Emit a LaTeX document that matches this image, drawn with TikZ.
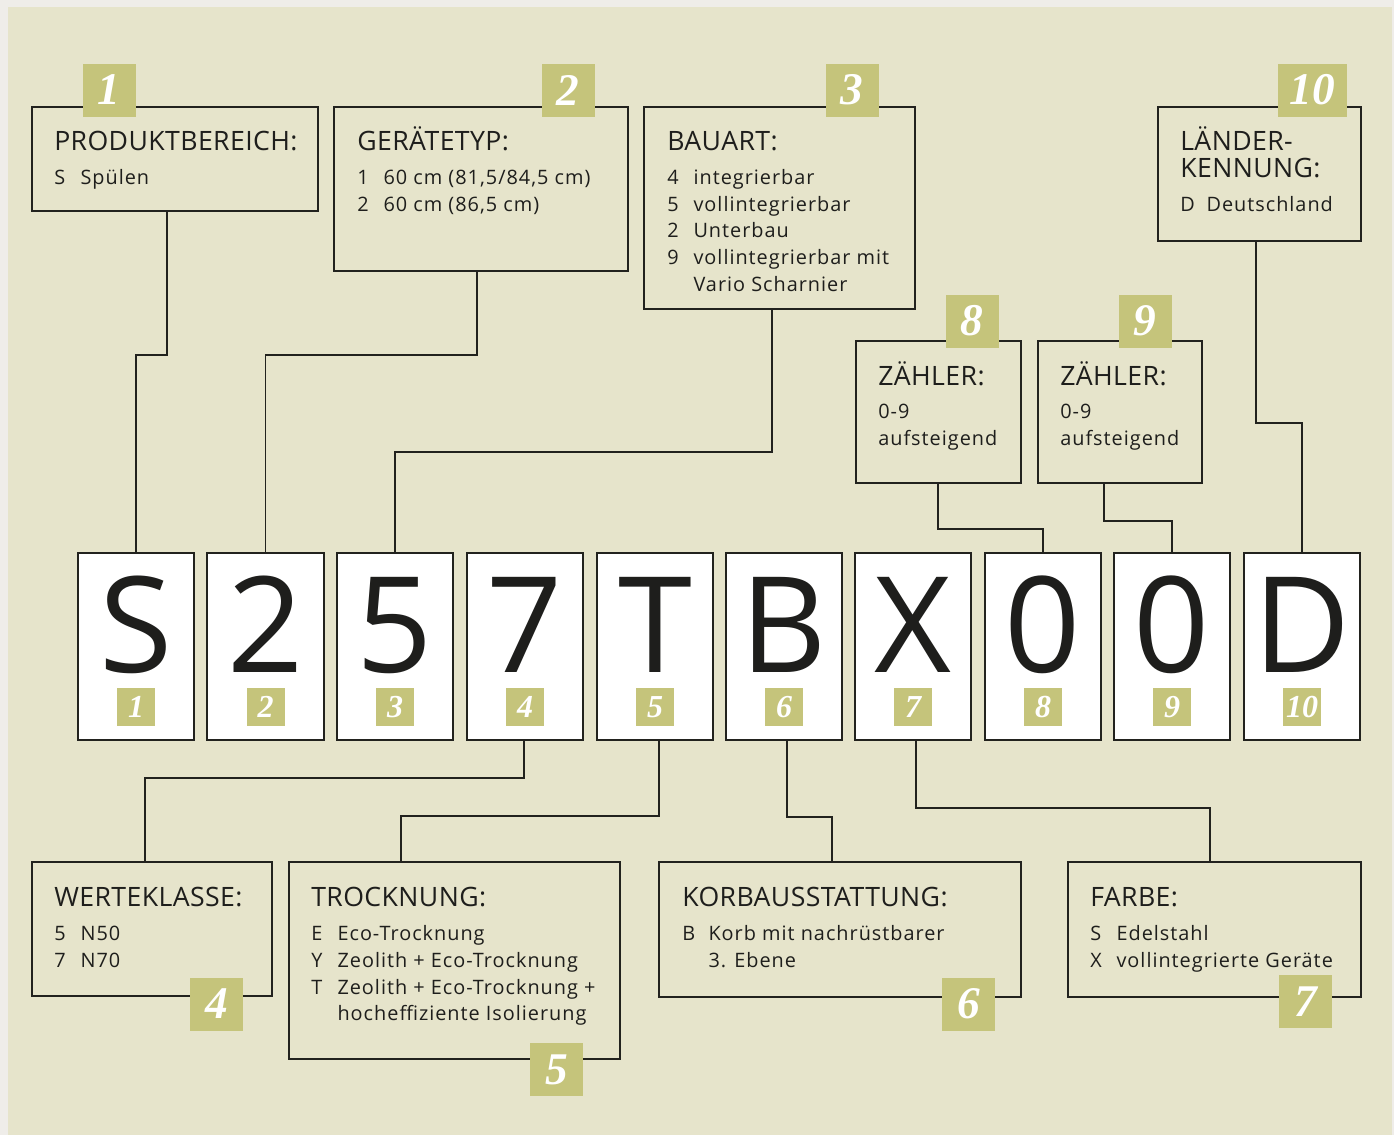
\documentclass[tikz,border=0pt]{standalone}
\usepackage{fontspec}
\setmainfont{Open Sans}
\newfontfamily\numfont{Liberation Serif}
\newfontfamily\bodyfont[LetterSpace=5]{Open Sans}
\newfontfamily\headfont[LetterSpace=1.5]{Open Sans}
\usetikzlibrary{fit}
\definecolor{bgbeige}{RGB}{230,228,203}
\definecolor{outerclr}{RGB}{239,237,233}
\definecolor{olivebadge}{RGB}{197,196,123}
\definecolor{lineclr}{RGB}{34,34,30}
\definecolor{textclr}{RGB}{30,30,28}
\newcommand\codeln[4]{\node[body] (#1) at (#2) {\makebox[19.7pt][l]{#3}#4};}
\begin{document}
\begin{tikzpicture}[x=0.75pt,y=-0.75pt,
 frame/.style={draw=lineclr, line width=1.5pt, inner sep=0pt, fill=bgbeige},
 lbox/.style={draw=lineclr, line width=1.5pt, inner sep=0pt, fill=white},
 badge/.style={fill=olivebadge, text=white, inner sep=0pt, minimum size=39.75pt,
   font=\numfont\bfseries\itshape\fontsize{34}{34}\selectfont},
 sbadge/.style={fill=olivebadge, text=white, inner sep=0pt, minimum size=28.5pt,
   font=\numfont\bfseries\itshape\fontsize{24}{24}\selectfont},
 head/.style={anchor=base west, inner sep=0pt, text=textclr, font=\headfont\fontsize{20}{24}\selectfont},
 body/.style={anchor=base west, inner sep=0pt, text=textclr, font=\bodyfont\fontsize{14.9}{18}\selectfont},
 big/.style={anchor=base, inner sep=0pt, text depth=0pt, text=textclr, font=\fontsize{100}{100}\selectfont},
 conn/.style={draw=lineclr, line width=1.1pt}]
\useasboundingbox (0,0) rectangle (1394,1135);
\fill[outerclr] (0,0) rectangle (1394,1135);
\fill[bgbeige] (8,7) rectangle (1392,1135);

% top boxes
\node[frame, fit={(32,107) (318,211)}] (b1) {};
\node[frame, fit={(334,107) (628,271)}] (b2) {};
\node[frame, fit={(644,107) (915,309)}] (b3) {};
\node[frame, fit={(1158,107) (1361,241)}] (b10) {};
\node[frame, fit={(856,341) (1021,483)}] (b8) {};
\node[frame, fit={(1038,341) (1202,483)}] (b9) {};
% bottom boxes
\node[frame, fit={(32,862) (272,996)}] (b4) {};
\node[frame, fit={(289,862) (620,1059)}] (b5) {};
\node[frame, fit={(659,862) (1021,997)}] (b6) {};
\node[frame, fit={(1068,862) (1361,997)}] (b7) {};

% letter boxes
\node[lbox, fit={(78,553) (194,740)}] (l1) {};
\node[lbox, fit={(207,553) (324,740)}] (l2) {};
\node[lbox, fit={(337,553) (453,740)}] (l3) {};
\node[lbox, fit={(467,553) (583,740)}] (l4) {};
\node[lbox, fit={(597,553) (713,740)}] (l5) {};
\node[lbox, fit={(726,553) (842,740)}] (l6) {};
\node[lbox, fit={(855,553) (971,740)}] (l7) {};
\node[lbox, fit={(985,553) (1101,740)}] (l8) {};
\node[lbox, fit={(1114,553) (1230,740)}] (l9) {};
\node[lbox, fit={(1244,553) (1360,740)}] (l10) {};

% connectors
\draw[conn] (b1.south -| 167,0) |- (l1.north |- 0,355) -- (l1.north);
\draw[conn] (b2.south -| 477,0) |- (l2.north |- 0,355) -- (l2.north);
\draw[conn] (b3.south -| 772,0) |- (l3.north |- 0,452) -- (l3.north);
\draw[conn] (b8.south -| 938,0) |- (l8.north |- 0,529) -- (l8.north);
\draw[conn] (b9.south -| 1104,0) |- (l9.north |- 0,521) -- (l9.north);
\draw[conn] (b10.south -| 1256,0) |- (l10.north |- 0,423) -- (l10.north);
\draw[conn] (l4.south -| 524,0) |- (145,778) -- (b4.north -| 145,0);
\draw[conn] (l5.south -| 659,0) |- (401,816) -- (b5.north -| 401,0);
\draw[conn] (l6.south -| 787,0) |- (832,817) -- (b6.north -| 832,0);
\draw[conn] (l7.south -| 916,0) |- (1210,808) -- (b7.north -| 1210,0);

% big letters
\foreach \n/\c in {1/S,2/2,3/5,4/7,5/T,6/B,7/X,8/0,9/0,10/D}{
  \node[big] (g\n) at (l\n.center |- 0,672) {\c};
  \node[sbadge] (s\n) at (l\n.center |- 0,707) {\n};
}

% badges of boxes
\node[badge] (n1) at (109,90) {1};
\node[badge] (n2) at (568,90) {2};
\node[badge] (n3) at (852,90) {3};
\node[badge, minimum width=51.75pt] (n10) at (1312.5,90) {10};
\node[badge] (n8) at (972,321) {8};
\node[badge] (n9) at (1145,321) {9};
\node[badge] (n4) at (216.5,1004) {4};
\node[badge] (n5) at (556.5,1069.5) {5};
\node[badge] (n6) at (968.5,1004) {6};
\node[badge] (n7) at (1305.5,1001.5) {7};

% texts
\node[head] (h1) at (54,150) {PRODUKTBEREICH:};
\codeln{t11}{54,184}{S}{Spülen}

\node[head] (h2) at (357,150) {GERÄTETYP:};
\codeln{t21}{357,184}{1}{60 cm (81,5/84,5 cm)}
\codeln{t22}{357,211}{2}{60 cm (86,5 cm)}

\node[head] (h3) at (667,150) {BAUART:};
\codeln{t31}{667,184}{4}{integrierbar}
\codeln{t32}{667,211}{5}{vollintegrierbar}
\codeln{t33}{667,237}{2}{Unterbau}
\codeln{t34}{667,264}{9}{vollintegrierbar mit}
\codeln{t35}{667,291}{}{Vario Scharnier}

\node[head] (h10a) at (1180,150) {LÄNDER-};
\node[head] (h10b) at (1180,177) {KENNUNG:};
\codeln{t101}{1180,211}{D}{Deutschland}

\node[head] (h8) at (878,385) {ZÄHLER:};
\node[body] (t81) at (878,418) {0-9};
\node[body] (t82) at (878,445) {aufsteigend};

\node[head] (h9) at (1060,385) {ZÄHLER:};
\node[body] (t91) at (1060,418) {0-9};
\node[body] (t92) at (1060,445) {aufsteigend};

\node[head] (h4) at (54,906) {WERTEKLASSE:};
\codeln{t41}{54,940}{5}{N50}
\codeln{t42}{54,967}{7}{N70}

\node[head] (h5) at (311,906) {TROCKNUNG:};
\codeln{t51}{311,940}{E}{Eco-Trocknung}
\codeln{t52}{311,967}{Y}{Zeolith + Eco-Trocknung}
\codeln{t53}{311,994}{T}{Zeolith + Eco-Trocknung +}
\codeln{t54}{311,1020}{}{hocheffiziente Isolierung}

\node[head] (h6) at (682,906) {KORBAUSSTATTUNG:};
\codeln{t61}{682,940}{B}{Korb mit nachrüstbarer}
\codeln{t62}{682,967}{}{3. Ebene}

\node[head] (h7) at (1090,906) {FARBE:};
\codeln{t71}{1090,940}{S}{Edelstahl}
\codeln{t72}{1090,967}{X}{vollintegrierte Geräte}
\end{tikzpicture}
\end{document}
